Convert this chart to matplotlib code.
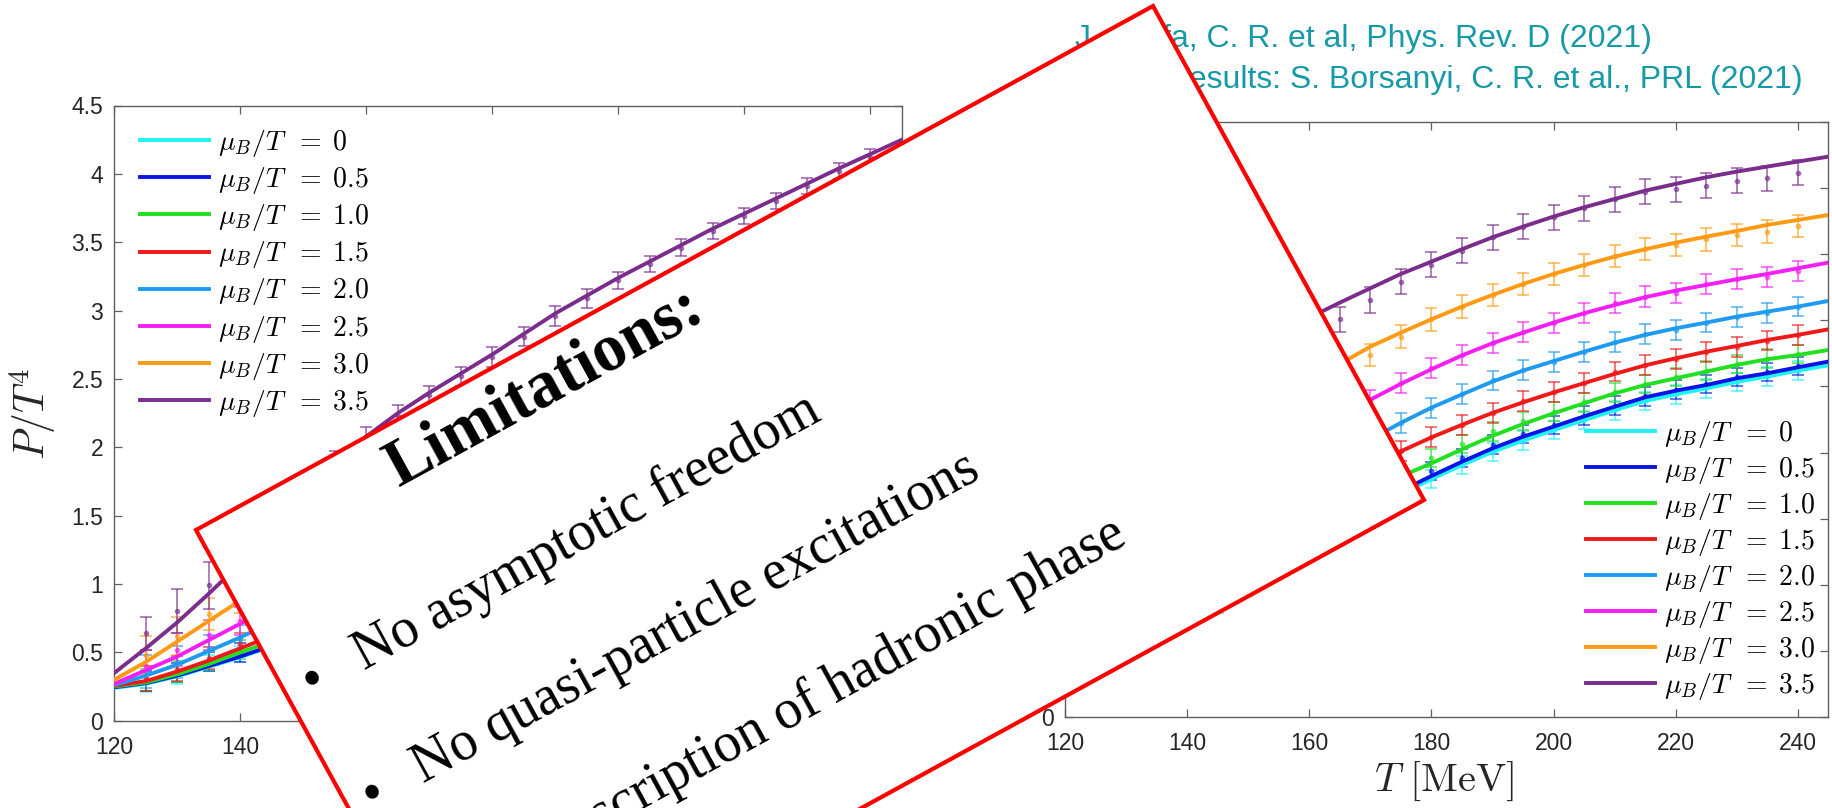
import numpy as np
import matplotlib
matplotlib.use("Agg")
import matplotlib.pyplot as plt
from matplotlib.patches import Polygon
from matplotlib.ticker import FormatStrFormatter

plt.rcParams['mathtext.fontset'] = 'cm'
plt.rcParams['font.family'] = ['Liberation Sans', 'DejaVu Sans']

W, H = 1832, 808

mu_values = ['0', '0.5', '1.0', '1.5', '2.0', '2.5', '3.0', '3.5']
mu_labels = [r'$\mu_B/T\;\;{=}\;%s$' % m for m in mu_values]
colors = ['#1ef2f2', '#0a14e6', '#20e020', '#f01818', '#1e9bf0', '#f51ef5', '#ff9a12', '#7b2d8e']

T_fit = [120, 125, 130, 135, 140, 145, 150, 155, 160, 165, 170, 175, 180,
         185, 190, 195, 200, 205, 210, 215, 220, 225, 230, 235, 240, 245]
T_lat = [125, 130, 135, 140, 145, 150, 155, 160, 165, 170, 175, 180,
         185, 190, 195, 200, 205, 210, 215, 220, 225, 230, 235, 240]

# left panel: model curves (P/T^4 vs T)
fit_L = [
    [.24, .27, .325, .395, .465, .545, .62, .71, .80, .88, .97, 1.05, 1.13, 1.21, 1.28, 1.35, 1.42, 1.49, 1.56, 1.62, 1.68, 1.74, 1.80, 1.86, 1.91, 1.97],
    [.245, .275, .33, .40, .47, .55, .63, .72, .81, .89, .98, 1.06, 1.14, 1.22, 1.29, 1.36, 1.43, 1.50, 1.57, 1.63, 1.69, 1.75, 1.81, 1.87, 1.92, 1.98],
    [.25, .28, .34, .415, .50, .58, .67, .76, .85, .94, 1.03, 1.12, 1.20, 1.28, 1.36, 1.44, 1.51, 1.58, 1.65, 1.72, 1.78, 1.84, 1.90, 1.96, 2.02, 2.08],
    [.255, .29, .36, .44, .53, .62, .72, .82, .92, 1.02, 1.12, 1.21, 1.30, 1.39, 1.47, 1.55, 1.63, 1.71, 1.78, 1.85, 1.92, 1.99, 2.06, 2.12, 2.18, 2.24],
    [.26, .33, .41, .51, .61, .72, .84, .96, 1.08, 1.19, 1.30, 1.40, 1.50, 1.60, 1.69, 1.78, 1.87, 1.95, 2.03, 2.11, 2.19, 2.26, 2.33, 2.40, 2.47, 2.54],
    [.27, .37, .47, .59, .71, .84, .98, 1.12, 1.26, 1.39, 1.51, 1.63, 1.74, 1.85, 1.95, 2.05, 2.15, 2.24, 2.33, 2.42, 2.50, 2.58, 2.66, 2.74, 2.81, 2.88],
    [.30, .43, .58, .73, .88, 1.06, 1.25, 1.44, 1.62, 1.78, 1.93, 2.07, 2.20, 2.33, 2.45, 2.57, 2.68, 2.79, 2.89, 2.99, 3.09, 3.18, 3.27, 3.36, 3.44, 3.52],
    [.35, .53, .72, .93, 1.15, 1.39, 1.63, 1.87, 2.08, 2.25, 2.40, 2.54, 2.68, 2.83, 2.98, 3.11, 3.24, 3.36, 3.48, 3.60, 3.71, 3.82, 3.93, 4.04, 4.145, 4.25],
]
# left panel: lattice points and errors
lat_L = [
    [.28, .34, .42, .49, .55, .62, .71, .80, .88, .97, 1.05, 1.13, 1.21, 1.28, 1.35, 1.42, 1.49, 1.56, 1.62, 1.68, 1.74, 1.80, 1.86, 1.91],
    [.29, .35, .43, .50, .56, .63, .72, .81, .89, .98, 1.06, 1.14, 1.22, 1.29, 1.36, 1.43, 1.50, 1.57, 1.63, 1.69, 1.75, 1.81, 1.87, 1.92],
    [.30, .36, .44, .52, .59, .67, .76, .85, .94, 1.03, 1.12, 1.20, 1.28, 1.36, 1.44, 1.51, 1.58, 1.65, 1.72, 1.78, 1.84, 1.90, 1.96, 2.02],
    [.31, .38, .46, .56, .63, .72, .82, .92, 1.02, 1.12, 1.21, 1.30, 1.39, 1.47, 1.55, 1.63, 1.71, 1.78, 1.85, 1.92, 1.99, 2.06, 2.12, 2.18],
    [.36, .43, .53, .60, .72, .84, .96, 1.08, 1.19, 1.30, 1.40, 1.50, 1.60, 1.69, 1.78, 1.87, 1.95, 2.03, 2.11, 2.19, 2.26, 2.33, 2.40, 2.47],
    [.40, .52, .63, .73, .84, .98, 1.12, 1.26, 1.39, 1.51, 1.63, 1.74, 1.85, 1.95, 2.05, 2.15, 2.24, 2.33, 2.42, 2.50, 2.58, 2.66, 2.74, 2.81],
    [.48, .62, .78, .90, 1.06, 1.25, 1.44, 1.62, 1.78, 1.93, 2.07, 2.20, 2.33, 2.45, 2.57, 2.68, 2.79, 2.89, 2.99, 3.09, 3.18, 3.27, 3.36, 3.44],
    [.64, .80, .99, 1.20, 1.42, 1.66, 1.88, 2.07, 2.23, 2.38, 2.52, 2.66, 2.81, 2.96, 3.09, 3.22, 3.34, 3.46, 3.58, 3.69, 3.80, 3.91, 4.02, 4.12],
]
err_L = [
    [.07, .07, .06, .06, .06, .06, .06, .06, .06, .06, .06, .06, .06, .06, .06, .06, .06, .06, .06, .06, .06, .06, .06, .06],
    [.07, .07, .07, .07, .06, .06, .06, .06, .06, .06, .06, .06, .06, .06, .06, .06, .06, .06, .06, .06, .06, .06, .06, .06],
    [.08, .08, .07, .07, .06, .06, .06, .06, .06, .06, .06, .06, .06, .06, .06, .06, .06, .06, .06, .06, .06, .06, .06, .06],
    [.09, .09, .08, .08, .07, .07, .06, .06, .06, .06, .06, .06, .06, .06, .06, .06, .06, .06, .06, .06, .06, .06, .06, .06],
    [.12, .12, .10, .10, .08, .07, .07, .06, .06, .06, .06, .06, .06, .06, .06, .06, .06, .06, .06, .06, .06, .06, .06, .06],
    [.12, .12, .11, .10, .09, .08, .07, .07, .06, .06, .06, .06, .06, .06, .06, .06, .06, .06, .06, .06, .06, .06, .06, .06],
    [.14, .14, .12, .11, .10, .09, .08, .07, .07, .07, .06, .06, .06, .06, .06, .06, .06, .06, .06, .06, .06, .06, .06, .06],
    [.12, .16, .17, .15, .12, .10, .09, .08, .08, .07, .07, .07, .07, .07, .07, .06, .06, .06, .06, .06, .06, .06, .06, .06],
]

# right panel: model curves
fit_R = [
    [.36, .44, .53, .63, .74, .86, .995, 1.135, 1.28, 1.425, 1.56, 1.685, 1.80, 1.905, 2.005, 2.09, 2.17, 2.245, 2.32, 2.39, 2.44, 2.485, 2.535, 2.575, 2.62, 2.66],
    [.37, .45, .54, .645, .76, .885, 1.02, 1.16, 1.305, 1.45, 1.585, 1.71, 1.823, 1.931, 2.032, 2.12, 2.196, 2.274, 2.347, 2.418, 2.468, 2.511, 2.562, 2.60, 2.645, 2.688],
    [.41, .50, .60, .715, .84, .975, 1.12, 1.27, 1.42, 1.565, 1.70, 1.82, 1.919, 2.025, 2.126, 2.216, 2.297, 2.373, 2.448, 2.511, 2.562, 2.612, 2.663, 2.706, 2.738, 2.776],
    [.51, .62, .74, .87, 1.01, 1.16, 1.32, 1.48, 1.63, 1.77, 1.895, 2.01, 2.115, 2.21, 2.30, 2.38, 2.455, 2.525, 2.595, 2.66, 2.713, 2.763, 2.806, 2.852, 2.89, 2.932],
    [.57, .69, .83, .98, 1.14, 1.31, 1.49, 1.66, 1.82, 1.965, 2.10, 2.225, 2.34, 2.44, 2.537, 2.62, 2.692, 2.763, 2.831, 2.89, 2.94, 2.983, 3.028, 3.066, 3.104, 3.147],
    [.69, .84, 1.01, 1.19, 1.38, 1.58, 1.77, 1.95, 2.12, 2.27, 2.40, 2.52, 2.63, 2.735, 2.827, 2.907, 2.983, 3.054, 3.116, 3.175, 3.225, 3.268, 3.311, 3.351, 3.394, 3.437],
    [.93, 1.13, 1.34, 1.56, 1.78, 1.99, 2.19, 2.37, 2.53, 2.67, 2.801, 2.907, 3.008, 3.104, 3.192, 3.275, 3.351, 3.419, 3.482, 3.538, 3.588, 3.633, 3.676, 3.722, 3.759, 3.797],
    [1.34, 1.60, 1.86, 2.11, 2.34, 2.55, 2.73, 2.89, 3.02, 3.134, 3.243, 3.351, 3.444, 3.538, 3.628, 3.709, 3.785, 3.855, 3.918, 3.981, 4.032, 4.082, 4.125, 4.163, 4.201, 4.238],
]
# right panel: lattice points, one error size per series
lat_R = [
    [.44, .53, .63, .74, .86, .995, 1.135, 1.28, 1.425, 1.56, 1.685, 1.80, 1.905, 2.005, 2.09, 2.17, 2.245, 2.32, 2.39, 2.44, 2.485, 2.535, 2.575, 2.62],
    [.45, .54, .645, .76, .885, 1.02, 1.16, 1.305, 1.45, 1.585, 1.71, 1.86, 1.96, 2.06, 2.14, 2.21, 2.28, 2.355, 2.425, 2.475, 2.52, 2.57, 2.61, 2.655],
    [.50, .60, .715, .84, .975, 1.12, 1.27, 1.42, 1.565, 1.70, 1.82, 1.957, 2.063, 2.16, 2.24, 2.31, 2.38, 2.455, 2.52, 2.57, 2.62, 2.67, 2.71, 2.745],
    [.62, .74, .87, 1.01, 1.16, 1.32, 1.48, 1.63, 1.77, 1.895, 2.01, 2.115, 2.21, 2.30, 2.39, 2.46, 2.525, 2.613, 2.663, 2.708, 2.763, 2.799, 2.847, 2.89],
    [.69, .83, .98, 1.14, 1.31, 1.49, 1.66, 1.82, 1.965, 2.10, 2.225, 2.34, 2.443, 2.545, 2.625, 2.685, 2.763, 2.838, 2.897, 2.927, 2.983, 3.028, 3.058, 3.104],
    [.84, 1.01, 1.19, 1.38, 1.58, 1.77, 1.95, 2.12, 2.27, 2.40, 2.524, 2.637, 2.738, 2.827, 2.915, 2.983, 3.054, 3.134, 3.18, 3.21, 3.275, 3.311, 3.331, 3.376],
    [1.12, 1.33, 1.55, 1.77, 1.98, 2.18, 2.36, 2.52, 2.66, 2.738, 2.877, 3.008, 3.104, 3.192, 3.275, 3.351, 3.419, 3.487, 3.538, 3.570, 3.613, 3.646, 3.671, 3.714],
    [1.58, 1.84, 2.10, 2.33, 2.54, 2.72, 2.87, 2.98, 3.008, 3.154, 3.293, 3.419, 3.527, 3.628, 3.709, 3.780, 3.848, 3.916, 3.974, 3.99, 4.017, 4.057, 4.075, 4.117],
]
err_R = [0.07, 0.07, 0.07, 0.075, 0.075, 0.076, 0.085, 0.095]

bullets = ['No asymptotic freedom', 'No quasi-particle excitations',
           'No description of hadronic phase']
refs = ['J. Grefa, C. R. et al, Phys. Rev. D (2021)',
        'Lattice results: S. Borsanyi, C. R. et al., PRL (2021)']


def fx(x):
    return x / W


def fy(y):
    return 1 - y / H


def setup(ax):
    ax.set_xlim(120, 245)
    ax.set_ylim(0, 4.5)
    ax.set_xticks([120, 140, 160, 180, 200, 220, 240])
    ax.set_yticks(np.arange(0, 4.51, 0.5))
    ax.yaxis.set_major_formatter(FormatStrFormatter('%g'))
    ax.tick_params(direction='in', top=True, right=True, length=6, width=0.9,
                   color='#606060', labelcolor='#262626', labelsize=16.5)
    ax.tick_params(axis='x', pad=11)
    ax.tick_params(axis='y', pad=8)
    for s in ax.spines.values():
        s.set_color('#606060')
        s.set_linewidth(1.0)


def draw(ax, fits, lats, errs):
    for i in range(8):
        ax.errorbar(T_lat, lats[i], yerr=errs[i], fmt='o', ms=3, color=colors[i],
                    alpha=0.6, capsize=4.5, elinewidth=1.4, capthick=1.4, zorder=2)
        ax.plot(T_fit, fits[i], color=colors[i], lw=2.8, label=mu_labels[i], zorder=3)


fig = plt.figure(figsize=(W / 100, H / 100), dpi=100)

axL = fig.add_axes([fx(114.4), fy(720.7), (902 - 114.4) / W, (720.7 - 105.5) / H])
setup(axL)
draw(axL, fit_L, lat_L, err_L)
hL, lL = axL.get_legend_handles_labels()
axL.legend(hL, lL, loc='upper left', bbox_to_anchor=(fx(140), fy(128)),
           bbox_transform=fig.transFigure, frameon=False, fontsize=20,
           handlelength=2.5, handletextpad=0.3, labelspacing=0.22,
           borderpad=0, borderaxespad=0)

axR = fig.add_axes([fx(1065), fy(717), (1828.5 - 1065) / W, (717 - 122) / H])
setup(axR)
draw(axR, fit_R, lat_R, err_R)
hR, lR = axR.get_legend_handles_labels()
axR.legend(hR, lR, loc='upper left', bbox_to_anchor=(fx(1586), fy(419)),
           bbox_transform=fig.transFigure, frameon=False, fontsize=20,
           handlelength=2.5, handletextpad=0.3, labelspacing=0.18,
           borderpad=0, borderaxespad=0)

fig.text(fx(33), fy(414), r'$P/T^4$', rotation=90, ha='center', va='center',
         fontsize=30, color='#262626')
fig.text(fx(1444), fy(781), r'$T\ [\mathrm{MeV}]$', ha='center', va='center',
         fontsize=29, color='#262626')

for k, line in enumerate(refs):
    fig.text(fx(1075), fy(47 + 41 * k), line, ha='left', va='baseline',
             fontsize=23, color='#179aa8', family='Liberation Sans', zorder=5)

# tilted white card with red frame
A = (196, 530)
B = (1153, 6)
C = (1424, 500)
D = (A[0] + C[0] - B[0], A[1] + C[1] - B[1])
card = Polygon([(fx(x), fy(y)) for x, y in (A, B, C, D)], closed=True,
               transform=fig.transFigure, facecolor='white', edgecolor='#ff0000',
               lw=3, joinstyle='miter', zorder=10)
fig.add_artist(card)

ang = np.degrees(np.arctan2(A[1] - B[1], B[0] - A[0]))
ca, sa = np.cos(np.radians(ang)), np.sin(np.radians(ang))


def along(p, du, dn):
    # du along the text direction, dn across it (downwards on the card)
    return (p[0] + du * ca + dn * sa, p[1] - du * sa + dn * ca)


L1 = (364, 670)
title = along(L1, 118, -144)
fig.text(fx(title[0]), fy(title[1]), 'Limitations:', rotation=ang,
         rotation_mode='anchor', ha='left', va='baseline', fontsize=48,
         fontweight='bold', family='Liberation Serif', zorder=11)
for k, txt in enumerate(bullets):
    p = along(L1, -2 * k, 128 * k)
    fig.text(fx(p[0]), fy(p[1]), txt, rotation=ang, rotation_mode='anchor',
             ha='left', va='baseline', fontsize=40, family='Liberation Serif',
             zorder=11)
    b = along(p, -58, 0)
    fig.text(fx(b[0]), fy(b[1]), '\u2022', rotation=ang, rotation_mode='anchor',
             ha='left', va='baseline', fontsize=40, family='Liberation Serif',
             zorder=11)

fig.savefig('out.png', dpi=100)
